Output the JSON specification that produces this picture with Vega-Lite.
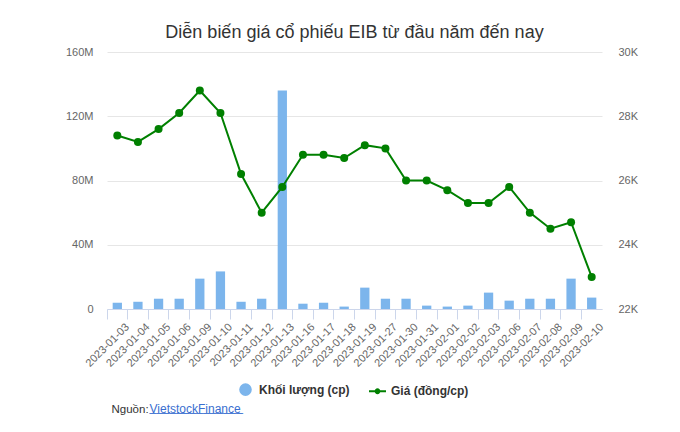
{
  "$schema": "https://vega.github.io/schema/vega-lite/v6.json",
  "width": 495,
  "height": 257,
  "autosize": {"type": "none"},
  "padding": {"left": 107, "top": 52, "right": 78, "bottom": 123},
  "background": "white",
  "title": {
    "text": "Diễn biến giá cổ phiếu EIB từ đầu năm đến nay",
    "fontSize": 18,
    "font": "Liberation Sans",
    "fontWeight": "normal",
    "color": "#333333",
    "anchor": "middle",
    "offset": 4
  },
  "data": {
    "values": [
      {"date": "2023-01-03", "volume": 3.9e6, "price": 27400},
      {"date": "2023-01-04", "volume": 4.5e6, "price": 27200},
      {"date": "2023-01-05", "volume": 6.4e6, "price": 27600},
      {"date": "2023-01-06", "volume": 6.4e6, "price": 28100},
      {"date": "2023-01-09", "volume": 18.9e6, "price": 28800},
      {"date": "2023-01-10", "volume": 23.4e6, "price": 28100},
      {"date": "2023-01-11", "volume": 4.5e6, "price": 26200},
      {"date": "2023-01-12", "volume": 6.4e6, "price": 25000},
      {"date": "2023-01-13", "volume": 136e6, "price": 25800},
      {"date": "2023-01-16", "volume": 3.3e6, "price": 26800},
      {"date": "2023-01-17", "volume": 3.9e6, "price": 26800},
      {"date": "2023-01-18", "volume": 1.5e6, "price": 26700},
      {"date": "2023-01-19", "volume": 13.3e6, "price": 27100},
      {"date": "2023-01-27", "volume": 6.4e6, "price": 27000},
      {"date": "2023-01-30", "volume": 6.4e6, "price": 26000},
      {"date": "2023-01-31", "volume": 2.1e6, "price": 26000},
      {"date": "2023-02-01", "volume": 1.5e6, "price": 25700},
      {"date": "2023-02-02", "volume": 2.1e6, "price": 25300},
      {"date": "2023-02-03", "volume": 10.2e6, "price": 25300},
      {"date": "2023-02-06", "volume": 5.2e6, "price": 25800},
      {"date": "2023-02-07", "volume": 6.4e6, "price": 25000},
      {"date": "2023-02-08", "volume": 6.4e6, "price": 24500},
      {"date": "2023-02-09", "volume": 18.9e6, "price": 24700},
      {"date": "2023-02-10", "volume": 7.1e6, "price": 23000}
    ]
  },
  "encoding": {
    "x": {
      "field": "date",
      "type": "nominal",
      "sort": null,
      "scale": {"paddingInner": 0, "paddingOuter": 0},
      "axis": {
        "title": "Nguồn:",
        "titleFont": "Liberation Sans",
        "titleFontSize": 11.5,
        "titleFontWeight": "normal",
        "titleColor": "#333333",
        "titleAnchor": "start",
        "titleAlign": "left",
        "titleBaseline": "alphabetic",
        "titleX": 4,
        "titleY": 103,
        "labelAngle": -45,
        "labelAlign": "right",
        "labelBaseline": "middle",
        "labelFont": "Liberation Sans",
        "labelFontSize": 11,
        "labelColor": "#666666",
        "labelPadding": 6,
        "labelOffset": 10.3,
        "bandPosition": 0,
        "domainColor": "#ccd6eb",
        "tickColor": "#ccd6eb",
        "tickSize": 10,
        "grid": false
      }
    }
  },
  "layer": [
    {
      "mark": {"type": "bar", "color": "#7cb5ec", "width": {"band": 0.45}},
      "encoding": {
        "y": {
          "field": "volume",
          "type": "quantitative",
          "scale": {"domain": [0, 160000000], "nice": false},
          "axis": {
            "values": [0, 40000000, 80000000, 120000000, 160000000],
            "labelExpr": "datum.value == 0 ? '0' : (datum.value / 1000000) + 'M'",
            "title": "______________",
            "titleFont": "Liberation Sans",
            "titleFontSize": 12,
            "titleFontWeight": "normal",
            "titleColor": "#3a6fd0",
            "titleAngle": 0,
            "titleAlign": "left",
            "titleBaseline": "alphabetic",
            "titleX": 42,
            "titleY": 358,
            "labelFont": "Liberation Sans",
            "labelFontSize": 11,
            "labelColor": "#666666",
            "labelPadding": 14,
            "ticks": false,
            "domain": false,
            "grid": true,
            "gridColor": "#e6e6e6"
          }
        },
        "color": {
          "datum": "Khối lượng (cp)",
          "type": "nominal",
          "scale": {"domain": ["Khối lượng (cp)", "Giá (đồng/cp)"], "range": ["#7cb5ec", "#008000"]},
          "legend": {
            "orient": "none",
            "direction": "horizontal",
            "legendX": 132,
            "legendY": 331,
            "title": null,
            "labelFont": "Liberation Sans",
            "labelFontSize": 12,
            "labelFontWeight": "bold",
            "labelColor": "#333333",
            "symbolSize": 113,
            "symbolStrokeWidth": 2,
            "columnPadding": 14,
            "labelOffset": 7,
            "encode": {
              "symbols": {
                "update": {
                  "fill": {"scale": "color", "field": "value"},
                  "stroke": {"scale": "color", "field": "value"},
                  "shape": {"signal": "datum.value == 'Giá (đồng/cp)' ? 'M-1.6,0L1.6,0M-0.36,0A0.36,0.36 0 1,0 0.36,0A0.36,0.36 0 1,0 -0.36,0Z' : 'circle'"},
                  "fillOpacity": {"value": 1}
                }
              }
            }
          }
        }
      }
    },
    {
      "mark": {"type": "line", "strokeWidth": 2, "point": {"filled": true, "size": 64, "opacity": 1}},
      "encoding": {
        "y": {
          "field": "price",
          "type": "quantitative",
          "scale": {"domain": [22000, 30000], "nice": false, "zero": false},
          "axis": {
            "orient": "right",
            "values": [22000, 24000, 26000, 28000, 30000],
            "labelExpr": "(datum.value / 1000) + 'K'",
            "title": "VietstockFinance",
            "titleFont": "Liberation Sans",
            "titleFontSize": 12,
            "titleFontWeight": "normal",
            "titleColor": "#3a6fd0",
            "titleAngle": 0,
            "titleAlign": "left",
            "titleBaseline": "alphabetic",
            "titleX": -453,
            "titleY": 360,
            "labelFont": "Liberation Sans",
            "labelFontSize": 11,
            "labelColor": "#666666",
            "labelPadding": 16,
            "ticks": false,
            "domain": false,
            "grid": false
          }
        },
        "color": {"datum": "Giá (đồng/cp)", "type": "nominal"}
      }
    }
  ],
  "resolve": {"scale": {"y": "independent"}},
  "config": {"view": {"stroke": null}}
}
